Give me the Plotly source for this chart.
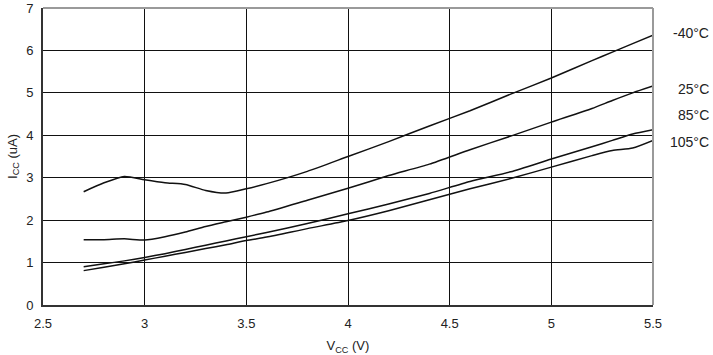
import plotly.graph_objects as go

vcc = [2.7, 2.8, 2.9, 3.0, 3.1, 3.2, 3.3, 3.4, 3.5, 3.6, 3.8, 4.0, 4.2, 4.4, 4.6, 4.8, 5.0, 5.2, 5.3, 5.4, 5.5]
icc_m40 = [2.67, 2.88, 3.03, 2.95, 2.88, 2.84, 2.70, 2.64, 2.74, 2.86, 3.15, 3.50, 3.85, 4.22, 4.58, 4.97, 5.35, 5.76, 5.96, 6.16, 6.36]
icc_25 = [1.54, 1.54, 1.56, 1.53, 1.61, 1.72, 1.85, 1.96, 2.07, 2.19, 2.47, 2.75, 3.05, 3.32, 3.66, 3.98, 4.31, 4.63, 4.82, 5.00, 5.16]
icc_85 = [0.90, 0.97, 1.04, 1.12, 1.21, 1.31, 1.41, 1.51, 1.61, 1.71, 1.92, 2.15, 2.38, 2.63, 2.91, 3.14, 3.44, 3.73, 3.88, 4.03, 4.13]
icc_105 = [0.81, 0.89, 0.97, 1.06, 1.15, 1.24, 1.33, 1.42, 1.52, 1.60, 1.80, 1.99, 2.22, 2.48, 2.74, 2.98, 3.25, 3.52, 3.64, 3.70, 3.88]

series = [("-40°C", icc_m40), ("25°C", icc_25), ("85°C", icc_85), ("105°C", icc_105)]
label_y = [6.42, 5.10, 4.47, 3.85]

x_ticks = [2.5, 3, 3.5, 4, 4.5, 5, 5.5]
x_ticklabels = ["2.5", "3", "3.5", "4", "4.5", "5", "5.5"]
y_ticks = [0, 1, 2, 3, 4, 5, 6, 7]

fig = go.Figure()
for name, vals in series:
    fig.add_trace(go.Scatter(x=vcc, y=vals, mode="lines", name=name,
                             line=dict(color="#111111", width=1.5, shape="spline", smoothing=0.6)))

for (name, _), ly in zip(series, label_y):
    fig.add_annotation(x=1.0, xref="paper", xanchor="right", xshift=58, y=ly, yref="y",
                       text=name, showarrow=False, font=dict(size=14, color="#222222"))

fig.add_shape(type="line", xref="paper", yref="paper", x0=0, x1=1, y0=1, y1=1,
              line=dict(color="#9a9a9a", width=2))
fig.add_shape(type="line", xref="paper", yref="paper", x0=1, x1=1, y0=0, y1=1,
              line=dict(color="#9a9a9a", width=2))

fig.update_layout(
    width=713, height=355,
    margin=dict(l=43, r=60, t=8, b=50, autoexpand=False),
    paper_bgcolor="white", plot_bgcolor="white",
    showlegend=False,
    font=dict(family="Liberation Sans, Arial, sans-serif", size=13, color="#222222"),
    xaxis=dict(range=[2.5, 5.5], tickvals=x_ticks, ticktext=x_ticklabels, automargin=False,
               showgrid=True, gridcolor="#111111", gridwidth=1,
               showline=True, linecolor="#333333", linewidth=2, zeroline=False,
               ticks="", ticklabelstandoff=5,
               title=dict(text="V<sub>CC</sub> (V)", font=dict(size=13), standoff=14)),
    yaxis=dict(range=[0, 7], tickvals=y_ticks, automargin=False,
               showgrid=True, gridcolor="#111111", gridwidth=1,
               showline=True, linecolor="#333333", linewidth=2, zeroline=False,
               ticks="", ticklabelstandoff=5,
               title=dict(text="I<sub>CC</sub> (uA)", font=dict(size=13), standoff=6)),
)

fig.write_html("out.html", config={"displayModeBar": False},
               post_script="document.body.style.margin='0';document.body.style.overflow='hidden';")
